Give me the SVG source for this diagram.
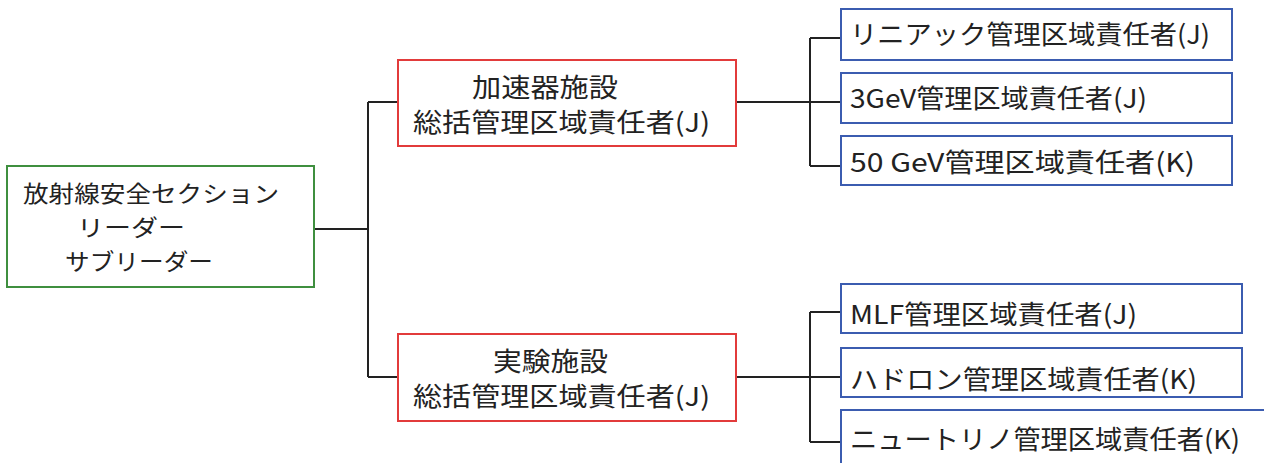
<svg xmlns="http://www.w3.org/2000/svg" width="1264" height="463" viewBox="0 0 1264 463">
<style>
text{font-family:"Noto Sans CJK JP","Noto Sans",sans-serif;fill:#222;font-size:26px}
.sm{font-size:23px}
.g{fill:#fff;stroke:#3f8f3f;stroke-width:2}
.r{fill:#fff;stroke:#e23b3b;stroke-width:2}
.b{fill:#fff;stroke:#3b5cb0;stroke-width:2}
.c{fill:none;stroke:#222;stroke-width:2}
</style>
<rect width="1264" height="463" fill="#fff"/>
<g id="connectors">
<path class="c" d="M314 229H368M368 102V377M368 102H398M368 377H398"/>
<path class="c" d="M736 102H810M810 38V166M810 38H841M810 102H841M810 166H841"/>
<path class="c" d="M736 377H810M810 312V442M810 312H841M810 377H841M810 442H841"/>
</g>
<g id="root">
<rect class="g" x="7" y="166" width="307" height="121"/>
<text class="sm" x="23" y="202" textLength="256" lengthAdjust="spacingAndGlyphs">放射線安全セクション</text>
<text class="sm" x="77" y="236" textLength="108" lengthAdjust="spacingAndGlyphs">リーダー</text>
<text class="sm" x="65" y="270" textLength="148" lengthAdjust="spacingAndGlyphs">サブリーダー</text>
</g>
<g id="accel">
<rect class="r" x="398" y="60" width="338" height="86"/>
<text x="472" y="97" textLength="146" lengthAdjust="spacingAndGlyphs">加速器施設</text>
<text x="413" y="132" textLength="297" lengthAdjust="spacingAndGlyphs">総括管理区域責任者(J)</text>
</g>
<g id="exp">
<rect class="r" x="398" y="334" width="338" height="87"/>
<text x="493" y="371" textLength="115" lengthAdjust="spacingAndGlyphs">実験施設</text>
<text x="413" y="406" textLength="297" lengthAdjust="spacingAndGlyphs">総括管理区域責任者(J)</text>
</g>
<g id="linac">
<rect class="b" x="841" y="9" width="391" height="51"/>
<text x="850" y="44" textLength="360" lengthAdjust="spacingAndGlyphs">リニアック管理区域責任者(J)</text>
</g>
<g id="gev3">
<rect class="b" x="841" y="73" width="391" height="50"/>
<text x="850" y="108" textLength="297" lengthAdjust="spacingAndGlyphs">3GeV管理区域責任者(J)</text>
</g>
<g id="gev50">
<rect class="b" x="841" y="136" width="391" height="49"/>
<text x="850" y="172" textLength="345" lengthAdjust="spacingAndGlyphs">50 GeV管理区域責任者(K)</text>
</g>
<g id="mlf">
<rect class="b" x="841" y="284" width="401" height="49"/>
<text x="850" y="324" textLength="287" lengthAdjust="spacingAndGlyphs">MLF管理区域責任者(J)</text>
</g>
<g id="hadron">
<rect class="b" x="841" y="348" width="401" height="49"/>
<text x="850" y="389" textLength="347" lengthAdjust="spacingAndGlyphs">ハドロン管理区域責任者(K)</text>
</g>
<g id="neutrino">
<rect class="b" x="841" y="410" width="428" height="60"/>
<text x="850" y="449" textLength="390" lengthAdjust="spacingAndGlyphs">ニュートリノ管理区域責任者(K)</text>
</g>
</svg>
